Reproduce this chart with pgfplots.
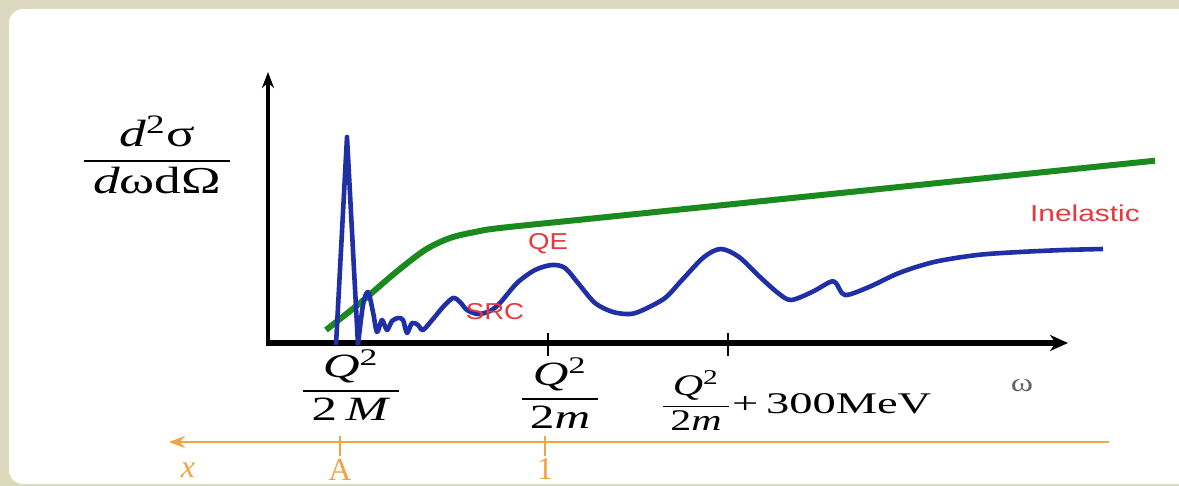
\documentclass[border=0pt]{standalone}
\usepackage{pgfplots}
\pgfplotsset{compat=1.18}
\usepackage{fontspec}
\setmainfont{Liberation Serif}
\newfontfamily\arial{Liberation Sans}
\usepackage{graphicx}
\usetikzlibrary{arrows.meta}
\definecolor{bgbeige}{HTML}{DCD9BF}
\definecolor{cblue}{HTML}{1F2FA5}
\definecolor{cgreen}{HTML}{1A8A1E}
\definecolor{cred}{HTML}{E8383D}
\definecolor{corange}{HTML}{F2A444}
\newcommand\fr[3]{{\setlength\arrayrulewidth{#1}\renewcommand\arraystretch{1}\begin{tabular}{@{\,}c@{\,}}#2\\\hline #3\end{tabular}}}
\begin{document}
\begin{tikzpicture}
\begin{axis}[scale only axis, width=589.5pt, height=243pt,
  xmin=0, xmax=1179, ymin=0, ymax=486, y dir=reverse,
  axis lines=none, clip=true]
\fill[bgbeige] (axis cs:0,0) rectangle (axis cs:1179,486);
\fill[white, rounded corners=7pt] (axis cs:9,9) rectangle (axis cs:1210,484);
% axes
\draw[line width=1.6pt, -{Stealth[length=8pt,width=6pt]}] (axis cs:268,346) -- (axis cs:268,72);
\draw[line width=2.6pt, -{Stealth[length=9pt,width=8pt]}] (axis cs:266,343) -- (axis cs:1068,343);
\draw[line width=0.6pt] (axis cs:548,333) -- (axis cs:548,356);
\draw[line width=0.6pt] (axis cs:728,333) -- (axis cs:728,356);
% green
\addplot[cgreen, line width=3pt, smooth, tension=0.5] coordinates {
(326,330) (360,303) (395,273) (425,250) (450,238) (475,232) (500,228)
(600,217.7) (800,197.2) (1000,176.6) (1155,160.7)};
% blue spike
\addplot[cblue, line width=2.3pt, line join=round] coordinates {
(336,345) (347,137) (358,345)};
% blue rest
\addplot[cblue, line width=2.3pt, smooth, tension=0.5, line join=round] coordinates {
(358,345) (363,305) (368,292) (373,312) (377,332) (382,320) (387,330) (392,321)
(398,318) (403,320) (407,333) (412,323) (418,325) (423,330) (433,319) (443,307)
(453,298) (460,302) (467,310) (478,314) (490,311) (500,303) (517,283) (535,270)
(552,265) (565,268) (578,283) (595,303) (613,312) (630,314) (643,310) (665,298)
(682,280) (704,257) (721,249) (739,257) (760,277) (778,293) (791,300) (812,292)
(830,282) (836,283) (845,295) (869,287) (899,273) (934,262) (977,255) (1020,252)
(1064,250) (1103,249)};
% red labels
\node[cred, font=\arial\fontsize{11.5}{13}\selectfont] at (axis cs:548,244) {\scalebox{1.2}[1]{QE}};
\node[cred, font=\arial\fontsize{11.5}{13}\selectfont] at (axis cs:495,312) {\scalebox{1.2}[1]{SRC}};
\node[cred, font=\arial\fontsize{11.5}{13}\selectfont] at (axis cs:1085,213) {\scalebox{1.3}[1]{Inelastic}};
% y label
\node at (axis cs:157,161) {\fontsize{19}{22}\selectfont\scalebox{1.4}[1]{\fr{1.3pt}{\textit{d}\textsuperscript{2}σ}{\textit{d}ωdΩ}}};
% tick labels
\node at (axis cs:351,391) {\fontsize{17}{20}\selectfont\scalebox{1.5}[1]{\fr{1.3pt}{\textit{Q}\textsuperscript{2}}{2\,\textit{M}}}};
\node at (axis cs:560,399) {\fontsize{17}{20}\selectfont\scalebox{1.45}[1]{\fr{1.2pt}{\textit{Q}\textsuperscript{2}}{2\textit{m}}}};
\node[anchor=west, inner sep=0pt] at (axis cs:663,406) {{\fontsize{15}{17}\selectfont\scalebox{1.4}[1]{\fr{0.7pt}{\textit{Q}\textsuperscript{2}}{2\textit{m}}}}\,{\fontsize{15}{17}\selectfont\scalebox{1.55}[1]{+\,300MeV}}};
\node[gray!80!black, font=\fontsize{13}{15}\selectfont] at (axis cs:1022,386) {\scalebox{1.3}[1]{ω}};
% orange axis
\draw[corange, line width=1.2pt, {Stealth[length=8pt,width=6pt]}-] (axis cs:169,442) -- (axis cs:1109,442);
\draw[corange, line width=0.7pt] (axis cs:340,436) -- (axis cs:340,456);
\draw[corange, line width=0.7pt] (axis cs:545,436) -- (axis cs:545,456);
\node[corange, font=\fontsize{16}{18}\selectfont] at (axis cs:188,470) {\textit{x}};
\node[corange, font=\fontsize{16}{18}\selectfont] at (axis cs:340,470) {A};
\node[corange, font=\fontsize{16}{18}\selectfont] at (axis cs:545,469) {1};
\end{axis}
\end{tikzpicture}
\end{document}
